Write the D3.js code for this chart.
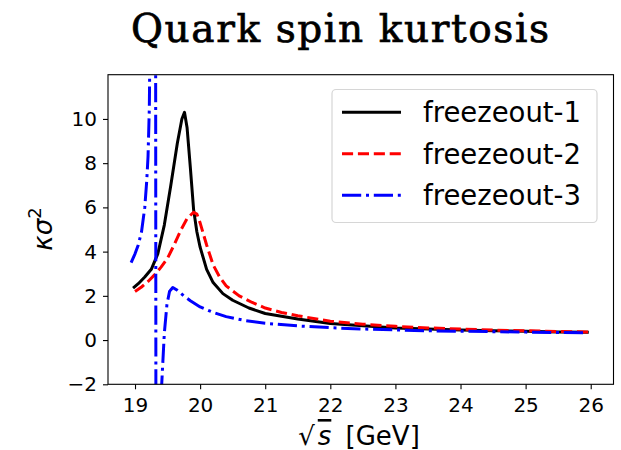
<!DOCTYPE html>
<html>
<head>
<meta charset="utf-8">
<script src="https://cdn.jsdelivr.net/npm/d3@7"></script>
<style>
    body { margin: 0; background: #fff; }
    svg { display: block; }
</style>
</head>
<body>
<script>
// freezeout-1 (solid black)
const sqrtS1 = [18.97, 19.05, 19.15, 19.25, 19.35, 19.45, 19.55, 19.65, 19.72, 19.76, 19.80, 19.85, 19.90, 19.95, 20.0,
    20.1, 20.2, 20.35, 20.5, 20.75, 21.0, 21.5, 22.0, 22.5, 23.0, 23.5, 24.0, 24.5, 25.0, 25.5, 25.97];
const kurt1 = [2.35, 2.55, 2.85, 3.2, 3.9, 5.2, 7.0, 8.9, 10.0, 10.3, 9.6, 7.8, 5.9, 4.9, 4.2,
    3.2, 2.6, 2.1, 1.8, 1.45, 1.2, 0.95, 0.75, 0.65, 0.55, 0.5, 0.45, 0.42, 0.4, 0.37, 0.35];

// freezeout-2 (dashed red)
const sqrtS2 = [19.0, 19.1, 19.2, 19.3, 19.4, 19.5, 19.6, 19.7, 19.8, 19.9, 19.95, 20.0, 20.1, 20.2, 20.3,
    20.4, 20.6, 20.8, 21.0, 21.25, 21.5, 22.0, 22.5, 23.0, 23.5, 24.0, 24.5, 25.0, 25.5, 25.97];
const kurt2 = [2.2, 2.4, 2.65, 2.95, 3.3, 3.7, 4.3, 4.95, 5.5, 5.78, 5.7, 5.3, 4.3, 3.4, 2.85,
    2.45, 2.0, 1.7, 1.45, 1.25, 1.1, 0.85, 0.72, 0.62, 0.55, 0.5, 0.45, 0.42, 0.39, 0.36];

// freezeout-3 (dash-dot blue), diverges near 19.32
const sqrtS3 = [18.94, 19.0, 19.05, 19.1, 19.15, 19.18, 19.2, 19.22, 19.25, 19.28, 19.305, 19.33, 19.38, 19.41,
    19.45, 19.49, 19.53, 19.58, 19.65, 19.75, 19.85, 20.0, 20.2, 20.4, 20.7, 21.0, 21.5, 22.0, 22.5,
    23.0, 23.5, 24.0, 24.5, 25.0, 25.5, 25.95];
const kurt3 = [3.5, 3.9, 4.3, 4.9, 6.0, 7.2, 8.3, 10.5, 20, 40, 60, -40, -6, -2,
    0.3, 1.6, 2.2, 2.38, 2.25, 2.0, 1.78, 1.5, 1.25, 1.06, 0.88, 0.76, 0.64, 0.56, 0.5,
    0.46, 0.42, 0.4, 0.38, 0.36, 0.34, 0.33];

const seriesNames = ["freezeout-1", "freezeout-2", "freezeout-3"];
const xTicks = [19, 20, 21, 22, 23, 24, 25, 26];
const yTicks = [-2, 0, 2, 4, 6, 8, 10];

const width = 621, height = 450;
const plot = { left: 108, right: 613.5, top: 74.7, bottom: 384.3 };

const styles = [
    { color: "#000000", dash: null },
    { color: "#ff0000", dash: "11.1 4.8" },
    { color: "#0000ff", dash: "19.2 4.8 3 4.8" }
];

const series = [
    d3.zip(sqrtS1, kurt1),
    d3.zip(sqrtS2, kurt2),
    d3.zip(sqrtS3, kurt3)
];

const svg = d3.select("body")
    .append("svg")
    .attr("width", width)
    .attr("height", height)
    .style("font-family", "'DejaVu Sans', sans-serif");

const x = d3.scaleLinear().domain([18.585, 26.35]).range([plot.left, plot.right]);
const y = d3.scaleLinear().domain([-2, 12]).range([plot.bottom, plot.top]);

// title, slab serif look
svg.append("text")
    .attr("x", 340)
    .attr("y", 42)
    .attr("text-anchor", "middle")
    .attr("textLength", 418)
    .attr("lengthAdjust", "spacing")
    .attr("stroke", "#000")
    .attr("stroke-width", 0.7)
    .style("font-family", "'DejaVu Serif', serif")
    .style("font-size", "39px")
    .text("Quark spin kurtosis");

svg.append("clipPath")
    .attr("id", "clip")
    .append("rect")
    .attr("x", plot.left)
    .attr("y", plot.top)
    .attr("width", plot.right - plot.left)
    .attr("height", plot.bottom - plot.top);

const line = d3.line()
    .x(d => x(d[0]))
    .y(d => y(d[1]));

svg.append("g")
    .attr("clip-path", "url(#clip)")
    .selectAll("path")
    .data(series)
    .enter()
    .append("path")
    .attr("d", line)
    .attr("fill", "none")
    .attr("stroke", (d, i) => styles[i].color)
    .attr("stroke-width", 3)
    .attr("stroke-dasharray", (d, i) => styles[i].dash)
    .attr("stroke-linejoin", "round");

// axes
const xAxis = svg.append("g")
    .attr("transform", `translate(0,${plot.bottom})`)
    .call(d3.axisBottom(x).tickValues(xTicks).tickSize(5).tickPadding(9).tickSizeOuter(0));

const yAxis = svg.append("g")
    .attr("transform", `translate(${plot.left},0)`)
    .call(d3.axisLeft(y).tickValues(yTicks).tickSize(5).tickPadding(6).tickSizeOuter(0)
        .tickFormat(d => d < 0 ? "\u2212" + Math.abs(d) : d));

[xAxis, yAxis].forEach(g => {
    g.select(".domain").remove();
    g.selectAll(".tick line").attr("stroke", "#000").attr("stroke-width", 1.1);
    g.selectAll(".tick text")
        .attr("fill", "#000")
        .style("font-family", "'DejaVu Sans', sans-serif")
        .style("font-size", "20px");
});

svg.append("rect")
    .attr("x", plot.left)
    .attr("y", plot.top)
    .attr("width", plot.right - plot.left)
    .attr("height", plot.bottom - plot.top)
    .attr("fill", "none")
    .attr("stroke", "#000")
    .attr("stroke-width", 1.1);

// axis labels
const xLabel = svg.append("text")
    .attr("x", 359)
    .attr("y", 445)
    .attr("text-anchor", "middle")
    .style("font-size", "26px");
xLabel.append("tspan").text("\u221A");
xLabel.append("tspan")
    .attr("dx", 3)
    .style("font-style", "italic")
    .style("text-decoration", "overline")
    .text("s");
xLabel.append("tspan").attr("dx", 6).text(" [GeV]");

const yLabel = svg.append("text")
    .attr("transform", "translate(52,229) rotate(-90)")
    .attr("text-anchor", "middle")
    .style("font-size", "26px");
yLabel.append("tspan").style("font-style", "italic").text("\u03BA\u03C3");
yLabel.append("tspan")
    .attr("dy", -11)
    .style("font-size", "18px")
    .text("2");

// legend
const legend = svg.append("g");

legend.append("rect")
    .attr("x", 332)
    .attr("y", 89.5)
    .attr("width", 265)
    .attr("height", 133)
    .attr("rx", 4)
    .attr("fill", "#fff")
    .attr("fill-opacity", 0.8)
    .attr("stroke", "#d6d6d6")
    .attr("stroke-width", 1.2);

const rows = legend.selectAll("g.row")
    .data(seriesNames)
    .enter()
    .append("g")
    .attr("class", "row")
    .attr("transform", (d, i) => `translate(0,${112.3 + i * 41.5})`);

rows.append("line")
    .attr("x1", 342)
    .attr("x2", 401)
    .attr("stroke", (d, i) => styles[i].color)
    .attr("stroke-width", 3)
    .attr("stroke-dasharray", (d, i) => styles[i].dash);

rows.append("text")
    .attr("x", 423)
    .attr("y", 10)
    .style("font-size", "27.5px")
    .text(d => d);
</script>
</body>
</html>
